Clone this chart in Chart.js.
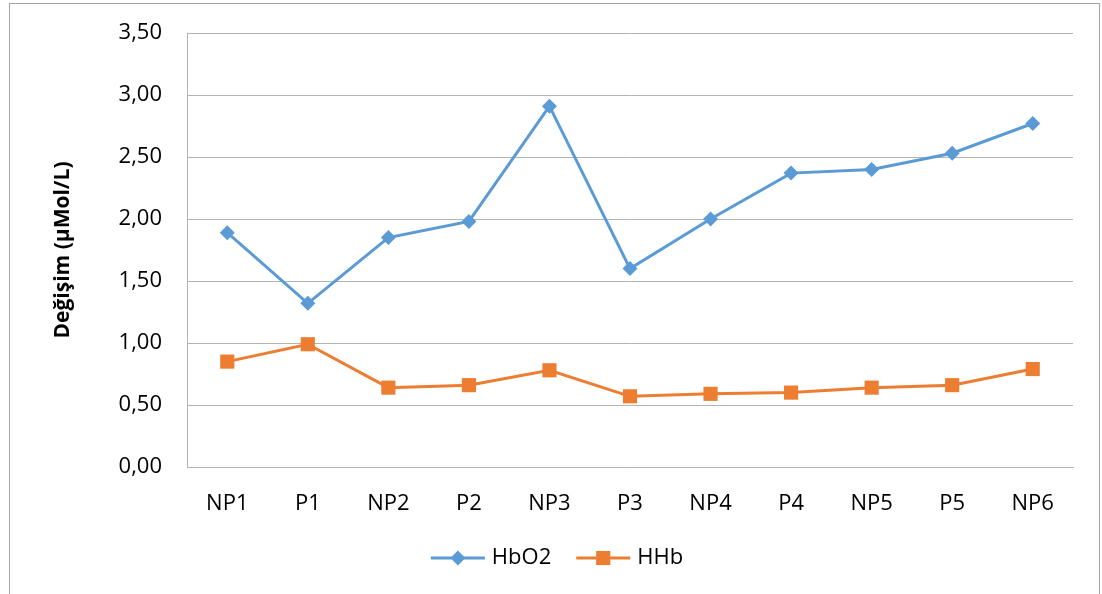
<!DOCTYPE html>
<html>
<head>
<meta charset="utf-8">
<script src="https://cdn.jsdelivr.net/npm/chart.js@4.4.0/dist/chart.umd.min.js"></script>
<style>
  html, body { margin: 0; padding: 0; background: #fff; }
  #wrap { width: 1102px; height: 594px; position: relative; }
</style>
</head>
<body>
<div id="wrap"><canvas id="chart" width="1102" height="594"></canvas></div>
<script>
// categories and series values
var categories = ["NP1", "P1", "NP2", "P2", "NP3", "P3", "NP4", "P4", "NP5", "P5", "NP6"];
var hbo2 = [1.89, 1.32, 1.85, 1.98, 2.91, 1.60, 2.00, 2.37, 2.40, 2.53, 2.77];
var hhb = [0.85, 0.99, 0.64, 0.66, 0.78, 0.57, 0.59, 0.60, 0.64, 0.66, 0.79];
var yTitle = "Değişim (µMol/L)";

var fontFamily = "'Open Sans', 'Liberation Sans', sans-serif";
var gridColor = "#b3b3b3";

// outer frame like the office chart box
var framePlugin = {
    id: "frame",
    beforeDraw: function(chart) {
        let ctx = chart.ctx;
        ctx.save();
        ctx.fillStyle = "#fff";
        ctx.fillRect(0, 0, chart.width, chart.height);
        ctx.strokeStyle = "#a6a6a6";
        ctx.lineWidth = 1;
        ctx.strokeRect(9.5, 3.5, 1090, 620);
        ctx.restore();
    }
};

// legend with line + marker, drawn from the datasets
var lineLegend = {
    id: "lineLegend",
    afterDraw: function(chart) {
        let ctx = chart.ctx;
        let sets = chart.data.datasets;
        let lineLen = 54, gapText = 7, gapItem = 25;
        let y = 558;
        ctx.save();
        ctx.font = "22px " + fontFamily;
        let widths = sets.map(function(ds) { return lineLen + gapText + ctx.measureText(ds.label).width; });
        let total = widths.reduce(function(a, b) { return a + b; }, 0) + gapItem * (sets.length - 1);
        let x = 557 - total / 2;
        sets.forEach(function(ds, i) {
            ctx.strokeStyle = ds.borderColor;
            ctx.lineWidth = 3;
            ctx.beginPath();
            ctx.moveTo(x, y);
            ctx.lineTo(x + lineLen, y);
            ctx.stroke();
            let cx = x + lineLen / 2;
            let r = ds.pointRadius;
            ctx.fillStyle = ds.backgroundColor;
            ctx.beginPath();
            if (ds.pointStyle === "rectRot") {
                ctx.moveTo(cx, y - r);
                ctx.lineTo(cx + r, y);
                ctx.lineTo(cx, y + r);
                ctx.lineTo(cx - r, y);
            } else {
                let s = Math.SQRT1_2 * r;
                ctx.rect(cx - s, y - s, 2 * s, 2 * s);
            }
            ctx.closePath();
            ctx.fill();
            ctx.fillStyle = "#000";
            ctx.textBaseline = "middle";
            ctx.textAlign = "left";
            ctx.fillText(ds.label, x + lineLen + gapText, y);
            x += widths[i] + gapItem;
        });
        ctx.restore();
    }
};

new Chart("chart", {
    type: "line",
    data: {
        labels: categories,
        datasets: [
            {
                label: "HbO2",
                data: hbo2,
                borderColor: "#5b9bd5",
                backgroundColor: "#5b9bd5",
                borderWidth: 3,
                pointStyle: "rectRot",
                pointRadius: 7.5,
                pointBorderWidth: 0,
                tension: 0
            },
            {
                label: "HHb",
                data: hhb,
                borderColor: "#ed7d31",
                backgroundColor: "#ed7d31",
                borderWidth: 3,
                pointStyle: "rect",
                pointRadius: 10,
                pointBorderWidth: 0,
                tension: 0
            }
        ]
    },
    plugins: [framePlugin, lineLegend],
    options: {
        responsive: false,
        animation: false,
        layout: {
            padding: { left: 0, top: 33, right: 29, bottom: 0 }
        },
        scales: {
            x: {
                offset: true,
                grid: { display: false, drawTicks: false },
                border: { display: true, color: gridColor, width: 1 },
                ticks: {
                    padding: 24,
                    color: "#000",
                    font: { family: fontFamily, size: 22 }
                },
                afterFit: function(scale) { scale.height = 594 - 467; }
            },
            y: {
                min: 0,
                max: 3.5,
                grid: { color: gridColor, drawTicks: false },
                border: { display: true, color: gridColor, width: 1 },
                ticks: {
                    stepSize: 0.5,
                    padding: 25,
                    color: "#000",
                    font: { family: fontFamily, size: 22 },
                    callback: function(v) { return v.toFixed(2).replace(".", ","); }
                },
                title: {
                    display: true,
                    text: yTitle,
                    color: "#000",
                    font: { family: fontFamily, size: 21, weight: "bold" },
                    padding: { top: 50, bottom: 0 }
                },
                afterFit: function(scale) {
                    scale.width = 187;
                    scale.paddingTop = 0;
                    scale.paddingBottom = 0;
                }
            }
        },
        plugins: {
            legend: { display: false },
            tooltip: { enabled: false }
        }
    }
});
</script>
</body>
</html>
